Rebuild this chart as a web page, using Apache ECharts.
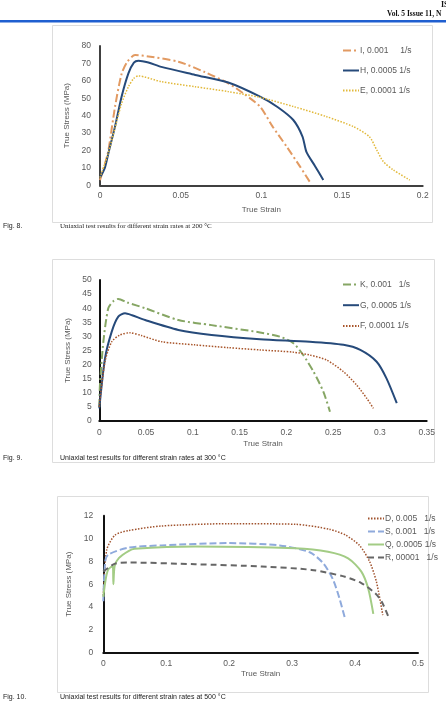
<!DOCTYPE html>
<html>
<head>
<meta charset="utf-8">
<script src="https://cdn.jsdelivr.net/npm/echarts@6/dist/echarts.min.js"></script>
<style>
  html, body { margin: 0; padding: 0; background: #fff; }
  #main { width: 446px; height: 723px; }
</style>
</head>
<body>
<div id="main"></div>
<script>
// Fig. 8 - 200 C
var strainI = [0, 0.003, 0.0052, 0.0093, 0.0134, 0.017, 0.0217, 0.03, 0.0486, 0.065, 0.0795, 0.09, 0.0992, 0.107, 0.1157, 0.124, 0.130];
var stressI = [3, 12, 20, 45, 64, 71, 74.8, 74, 71, 65, 58.6, 52, 45.2, 33.7, 22.2, 10.7, 2];
var strainH = [0, 0.003, 0.0052, 0.0093, 0.0134, 0.0176, 0.021, 0.0238, 0.03, 0.038, 0.059, 0.0795, 0.0992, 0.11, 0.1198, 0.1255, 0.128, 0.1333, 0.1384];
var stressH = [4.5, 10, 18.4, 33.7, 51, 64.3, 70.5, 71.6, 70.5, 68, 63.4, 59, 50.9, 45, 37.5, 28, 19, 11, 3];
var strainE = [0, 0.005, 0.0093, 0.0134, 0.0176, 0.021, 0.0238, 0.038, 0.059, 0.0795, 0.0992, 0.12, 0.1405, 0.157, 0.167, 0.1715, 0.1756, 0.1818, 0.192];
var stressE = [4.5, 18, 33, 47, 56.6, 61.5, 62.8, 59.5, 56.6, 53.8, 50.5, 45.2, 39.4, 33.7, 27.9, 20.3, 13.6, 8.8, 3];

// Fig. 9 - 300 C
var strainK = [0, 0.0007, 0.0043, 0.0096, 0.015, 0.0203, 0.03, 0.049, 0.0845, 0.12, 0.1718, 0.193, 0.2075, 0.218, 0.229, 0.2395, 0.2466];
var stressK = [5, 12.8, 28, 40, 42.5, 43.3, 42, 40, 35.8, 34, 31.4, 29.9, 27.6, 23.4, 17.5, 10.4, 3.3];
var strainG = [0, 0.0061, 0.0133, 0.0203, 0.0275, 0.035, 0.049, 0.0845, 0.12, 0.1718, 0.225, 0.261, 0.279, 0.2965, 0.307, 0.318];
var stressG = [4.5, 22.2, 31.7, 37, 38.2, 37.5, 35.8, 32.3, 30.5, 29, 28.1, 27, 25.2, 21, 15.1, 6.3];
var strainF = [0, 0.006, 0.0133, 0.022, 0.0328, 0.045, 0.0667, 0.102, 0.138, 0.1718, 0.2075, 0.225, 0.243, 0.261, 0.275, 0.286, 0.293];
var stressF = [5, 21, 28.1, 30.5, 31.3, 30.3, 28.1, 27, 26, 25.2, 24.4, 23.4, 21.6, 17.5, 12.8, 8, 4.5];

// Fig. 10 - 500 C
var strainD = [0, 0.0054, 0.0186, 0.04, 0.093, 0.199, 0.305, 0.36, 0.385, 0.407, 0.423, 0.434, 0.444];
var stressD = [5, 9, 10.3, 10.7, 11.1, 11.3, 11.25, 10.8, 10.3, 9.4, 8, 6.2, 3.3];
var strainS = [0, 0.003, 0.008, 0.04, 0.093, 0.199, 0.28, 0.328, 0.35, 0.365, 0.375, 0.384];
var stressS = [4.5, 8, 8.6, 9.2, 9.4, 9.6, 9.4, 8.8, 7.8, 6.4, 4.8, 3];
var strainQ = [0, 0.004, 0.008, 0.015, 0.016, 0.018, 0.025, 0.04, 0.05, 0.146, 0.305, 0.357, 0.389, 0.41, 0.421, 0.429];
var stressQ = [4.9, 6.5, 7.3, 7.6, 6.0, 7.6, 8.3, 8.9, 9.1, 9.3, 9.15, 8.85, 8.27, 7.1, 5.6, 3.4];
var strainR = [0, 0.0186, 0.04, 0.146, 0.252, 0.331, 0.384, 0.41, 0.432, 0.442, 0.453];
var stressR = [7.1, 7.8, 7.9, 7.75, 7.55, 7.25, 6.65, 6.1, 5.2, 4.5, 3.15];

function pairs(xs, ys) {
  return xs.map(function (x, i) { return [x, ys[i]] })
}

var chart = echarts.init(document.getElementById('main'))

var tickColor = '#595959'
var font = 'Liberation Sans, Arial, sans-serif'

function xAx(idx, max, interval, margin, gap, axisColor) {
  return {
    type: 'value', gridIndex: idx, min: 0, max: max, interval: interval,
    name: 'True Strain', nameLocation: 'middle', nameGap: gap,
    nameTextStyle: { color: tickColor, fontSize: 8, fontFamily: font },
    axisLine: { show: true, onZero: false, lineStyle: { color: axisColor, width: 2 } },
    axisTick: { show: false },
    splitLine: { show: false },
    axisLabel: { color: tickColor, fontSize: 8.5, fontFamily: font, margin: margin }
  }
}
function yAx(idx, max, interval, margin, gap, axisColor) {
  return {
    type: 'value', gridIndex: idx, min: 0, max: max, interval: interval,
    name: 'True Stress (MPa)', nameLocation: 'middle', nameGap: gap, nameRotate: 90,
    nameTextStyle: { color: tickColor, fontSize: 8, fontFamily: font },
    axisLine: { show: true, onZero: false, lineStyle: { color: axisColor, width: 2 } },
    axisTick: { show: false },
    splitLine: { show: false },
    axisLabel: { color: tickColor, fontSize: 8.5, fontFamily: font, margin: margin }
  }
}
function line(name, idx, data, color, type, width) {
  return {
    name: name, type: 'line', xAxisIndex: idx, yAxisIndex: idx,
    data: data, showSymbol: false, symbol: 'none',
    smooth: 0.25,
    lineStyle: { color: color, type: type, width: width },
    itemStyle: { color: color },
    animation: false
  }
}
function legend(names, left, top, gap) {
  return {
    orient: 'vertical', left: left, top: top, itemGap: gap,
    itemWidth: 16, itemHeight: 8, data: names,
    itemStyle: { opacity: 0 },
    textStyle: { color: tickColor, fontSize: 8.5, fontFamily: font, padding: [0, 0, 0, -4] }
  }
}

var n1 = ['I, 0.001     1/s', 'H, 0.0005 1/s', 'E, 0.0001 1/s']
var n2 = ['K, 0.001   1/s', 'G, 0.0005 1/s', 'F, 0.0001 1/s']
var n3 = ['D, 0.005   1/s', 'S, 0.001   1/s', 'Q, 0.0005 1/s', 'R, 00001   1/s']

chart.setOption({
  backgroundColor: '#fff',
  animation: false,
  grid: [
    { left: 100, top: 46, width: 322.7, height: 139.3 },
    { left: 99.3, top: 280, width: 327.4, height: 141 },
    { left: 103.3, top: 515.7, width: 314.7, height: 137 }
  ],
  xAxis: [
    xAx(0, 0.2, 0.05, 6, 20, '#404040'),
    xAx(1, 0.35, 0.05, 7.5, 19, '#111'),
    xAx(2, 0.5, 0.1, 6, 17, '#111')
  ],
  yAxis: [
    yAx(0, 80, 10, 9, 28, '#404040'),
    yAx(1, 50, 5, 7.5, 28, '#111'),
    yAx(2, 12, 2, 10, 26, '#111')
  ],
  legend: [
    legend(n1, 337, 41, 11),
    legend(n2, 337, 275, 11.7),
    legend(n3, 362, 509, 4)
  ],
  series: [
    line(n1[0], 0, pairs(strainI, stressI), '#E29A62', [8, 3, 2, 3], 2),
    line(n1[1], 0, pairs(strainH, stressH), '#264A7A', 'solid', 2),
    line(n1[2], 0, pairs(strainE, stressE), '#E2B93B', [1.5, 1.5], 1.5),
    line(n2[0], 1, pairs(strainK, stressK), '#86A664', [8, 3, 2, 3], 2),
    line(n2[1], 1, pairs(strainG, stressG), '#264A7A', 'solid', 2),
    line(n2[2], 1, pairs(strainF, stressF), '#A8552A', [1.5, 1.5], 1.5),
    line(n3[0], 2, pairs(strainD, stressD), '#A0522D', [1.5, 1.5], 1.5),
    line(n3[1], 2, pairs(strainS, stressS), '#8FAADC', [7, 3], 2),
    line(n3[2], 2, pairs(strainQ, stressQ), '#A3CC85', 'solid', 2),
    line(n3[3], 2, pairs(strainR, stressR), '#666666', [6, 4], 2)
  ],
  graphic: [
    { type: 'rect', shape: { x: 0, y: 20, width: 446, height: 2.5 }, style: { fill: '#1F5FD0' } },
    { type: 'text', left: 441, top: 1, style: { text: 'IS', font: 'bold 8px Liberation Serif', fill: '#111' } },
    { type: 'text', left: 387, top: 10, style: { text: 'Vol. 5 Issue 11, N', font: 'bold 7.5px Liberation Serif', fill: '#111' } },
    { type: 'rect', shape: { x: 52.5, y: 25.5, width: 380, height: 197 }, style: { fill: 'none', stroke: '#DDDDDD', lineWidth: 1 }, z: -1 },
    { type: 'rect', shape: { x: 52.5, y: 259.5, width: 382, height: 203 }, style: { fill: 'none', stroke: '#DDDDDD', lineWidth: 1 }, z: -1 },
    { type: 'rect', shape: { x: 57.5, y: 496.5, width: 371, height: 196 }, style: { fill: 'none', stroke: '#DDDDDD', lineWidth: 1 }, z: -1 },
    { type: 'text', left: 3, top: 223, style: { text: 'Fig. 8.', font: '7px Liberation Sans', fill: '#222' } },
    { type: 'text', left: 60, top: 223, style: { text: 'Uniaxial test results for different strain rates at 200 \u00b0C', font: '7px Liberation Serif', fill: '#222' } },
    { type: 'text', left: 3, top: 455, style: { text: 'Fig. 9.', font: '7px Liberation Sans', fill: '#222' } },
    { type: 'text', left: 60, top: 455, style: { text: 'Uniaxial test results for different strain rates at 300 \u00b0C', font: '7px Liberation Sans', fill: '#222' } },
    { type: 'text', left: 3, top: 694, style: { text: 'Fig. 10.', font: '7px Liberation Sans', fill: '#222' } },
    { type: 'text', left: 60, top: 694, style: { text: 'Uniaxial test results for different strain rates at 500 \u00b0C', font: '7px Liberation Sans', fill: '#222' } }
  ]
})
</script>
</body>
</html>
